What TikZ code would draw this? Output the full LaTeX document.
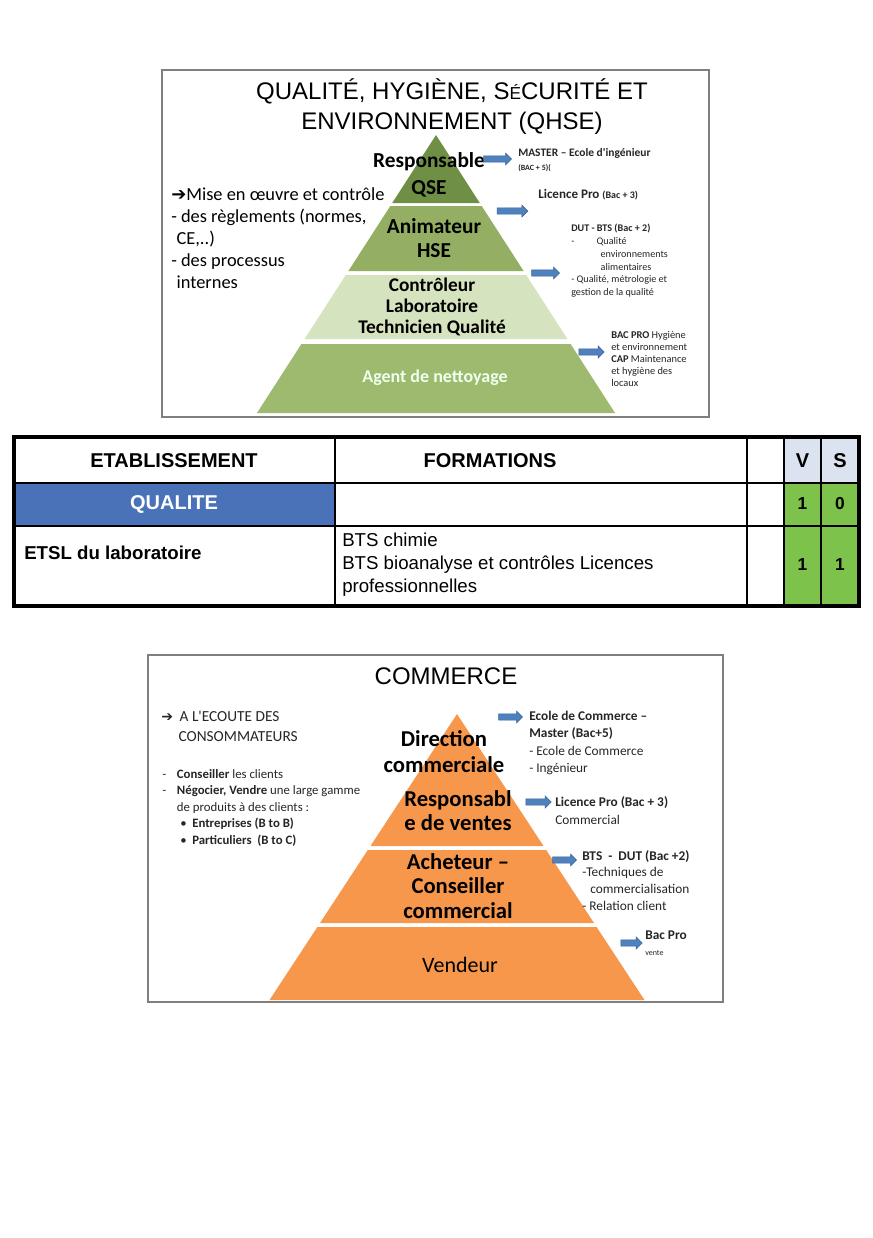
\documentclass[tikz,border=0pt]{standalone}
\usepackage{fontspec}
\setmainfont{Liberation Sans}
\newfontfamily\slidefont{Carlito}
\newfontfamily\symfont{DejaVu Sans}
\usetikzlibrary{shapes.arrows, positioning}
\definecolor{framegray}{HTML}{7F7F7F}
\definecolor{qsegreen}{HTML}{6F8F45}
\definecolor{hsegreen}{HTML}{94AF63}
\definecolor{labgreen}{HTML}{D6E3BF}
\definecolor{agentgreen}{HTML}{9EBA6F}
\definecolor{arrowblue}{HTML}{4F81BD}
\definecolor{arrowedge}{HTML}{3B6498}
\definecolor{qualiteblue}{HTML}{4A72B8}
\definecolor{scoregreen}{HTML}{7DC24B}
\definecolor{headgray}{HTML}{DCE3F0}
\definecolor{salesorange}{HTML}{F7974C}
\definecolor{inkgray}{HTML}{262626}

\begin{document}
\begin{tikzpicture}[x=0.75pt, y=-0.75pt,
    slide/.style={draw=framegray, line width=1.4pt, fill=white},
    slidetitle/.style={font=\fontsize{18}{22.5}\selectfont, align=center, inner sep=0pt},
    tiername/.style={font=\slidefont\bfseries\fontsize{16}{20}\selectfont, align=center, inner sep=0pt},
    note/.style={font=\slidefont\fontsize{13.8}{16.5}\selectfont, align=left, inner sep=0pt, anchor=north west},
    tinynote/.style={font=\slidefont\fontsize{7.6}{9.6}\selectfont, align=left, inner sep=0pt, anchor=north west, text=inkgray},
    pointer/.style={single arrow, fill=arrowblue, draw=arrowedge, line width=0.4pt, inner xsep=0pt, inner ysep=2.1pt, minimum width=8.5pt, single arrow head extend=2.2pt},
    cell/.style={font=\fontsize{14}{17.25}\selectfont, inner sep=0pt},
    tabline/.style={line width=1.1pt}
  ]
  \fill[white] (0,0) rectangle (873,1238);
  \useasboundingbox (0,0) rectangle (873,1238);

  % QHSE slide
  \draw[slide] (162,70) rectangle (709,417);
  \node[slidetitle] (qhsetitle) at (452,107) {QUALITÉ, HYGIÈNE, S{\fontsize{13}{15}\selectfont É}CURITÉ ET\\ENVIRONNEMENT (QHSE)};

  \fill[qsegreen] (436,135) -- (479.8,203) -- (392.2,203) -- cycle;
  \fill[hsegreen] (390.3,206) -- (481.7,206) -- (523.6,271) -- (348.4,271) -- cycle;
  \fill[labgreen] (345.8,275) -- (526.2,275) -- (567.4,339) -- (304.6,339) -- cycle;
  \fill[agentgreen] (301.4,344) -- (570.6,344) -- (615,413) -- (257,413) -- cycle;

  \node[tiername] (qse) at (429,175) {Responsable\\QSE};
  \node[tiername, font=\slidefont\bfseries\fontsize{16}{18}\selectfont] (hse) at (434,238) {Animateur\\HSE};
  \node[tiername, font=\slidefont\bfseries\fontsize{14.5}{16}\selectfont] (labo) at (432,307) {Contrôleur\\Laboratoire\\Technicien Qualité};
  \node[tiername, font=\slidefont\bfseries\fontsize{13.5}{16}\selectfont, text=white!94!green] (agent) at (435,378) {Agent de nettoyage};

  \node[note] (qhsenote) at (171,187) {{\symfont\bfseries\fontsize{13.5}{16.5}\selectfont ➔}Mise en œuvre et contrôle\\- des règlements (normes,\\\hspace*{4pt}CE,..)\\- des processus\\\hspace*{4pt}internes};

  \node[pointer, minimum height=21pt] (toMaster) at (496,159) {};
  \node[pointer, minimum height=23pt] (toLicence) at (511,211) {};
  \node[pointer, minimum height=21pt] (toDut) at (544,273) {};
  \node[pointer, minimum height=19pt] (toBacPro) at (590,352) {};

  \node[tinynote, font=\slidefont\bfseries\fontsize{8.6}{11}\selectfont] (master) at (518,148) {MASTER – Ecole d'ingénieur\\{\fontsize{6}{7}\selectfont (BAC + 5)(}};
  \node[tinynote, font=\slidefont\bfseries\fontsize{9.8}{11}\selectfont] (licence) at (538,189) {Licence Pro {\fontsize{7.5}{8}\selectfont (Bac + 3)}};
  \node[tinynote] (dut) at (571,224) {\textbf{DUT - BTS (Bac + 2)}\\-\hspace{2.2em}Qualité\\\hspace*{2.9em}environnements\\\hspace*{2.9em}alimentaires\\- Qualité, métrologie et\\gestion de la qualité};
  \node[tinynote, font=\slidefont\fontsize{7.8}{9}\selectfont] (bacpro) at (611,331) {\textbf{BAC PRO} Hygiène\\et environnement\\\textbf{CAP} Maintenance\\et hygiène des\\locaux};

  % table
  \fill[headgray] (784,437) rectangle (859,483);
  \fill[qualiteblue] (14,483) rectangle (335,526);
  \fill[scoregreen] (784,483) rectangle (859,606);
  \draw[tabline] (14,483) -- (859,483) (14,526) -- (859,526)
    (335,437) -- (335,606) (747,437) -- (747,606) (784,437) -- (784,606) (821,437) -- (821,606);
  \draw[line width=2.6pt] (14,437) rectangle (859,606);

  \node[cell, font=\bfseries\fontsize{15}{17}\selectfont] (etab) at (174,461) {ETABLISSEMENT};
  \node[cell, font=\bfseries\fontsize{15}{17}\selectfont] (form) at (490,461) {FORMATIONS};
  \node[cell, font=\bfseries\fontsize{15}{17}\selectfont] (vhead) at (802.5,461) {V};
  \node[cell, font=\bfseries\fontsize{15}{17}\selectfont] (shead) at (840,461) {S};
  \node[cell, font=\bfseries\fontsize{15}{17}\selectfont, text=white] (qualite) at (174,504) {QUALITE};
  \node[cell, font=\bfseries\fontsize{13}{15}\selectfont] (vqual) at (802.5,504) {1};
  \node[cell, font=\bfseries\fontsize{13}{15}\selectfont] (squal) at (840,504) {0};
  \node[cell, font=\bfseries\fontsize{14}{17}\selectfont, anchor=west] (etsl) at (24,553) {ETSL du laboratoire};
  \node[cell, align=left, anchor=north west] (bts) at (342,533) {BTS chimie\\BTS bioanalyse et contrôles Licences\\professionnelles};
  \node[cell, font=\bfseries\fontsize{13}{15}\selectfont] (vetsl) at (802.5,565) {1};
  \node[cell, font=\bfseries\fontsize{13}{15}\selectfont] (setsl) at (840,565) {1};

  % COMMERCE slide
  \draw[slide] (148,655) rectangle (723,1002);
  \node[slidetitle] (comtitle) at (446,676) {COMMERCE};

  \fill[salesorange] (457,714) -- (543.5,846) -- (370.5,846) -- cycle;
  \fill[salesorange] (367.8,850) -- (546.2,850) -- (594,923) -- (320,923) -- cycle;
  \fill[salesorange] (317.4,927) -- (596.6,927) -- (644.5,1000) -- (269.5,1000) -- cycle;

  \node[tiername, font=\slidefont\bfseries\fontsize{17}{19.5}\selectfont] (direction) at (444,752) {Direction\\commerciale};
  \node[tiername, font=\slidefont\bfseries\fontsize{17}{18}\selectfont] (respventes) at (458,811) {Responsabl\\e de ventes};
  \node[tiername, font=\slidefont\bfseries\fontsize{17}{18.4}\selectfont] (acheteur) at (458,886) {Acheteur –\\Conseiller\\commercial};
  \node[tiername, font=\slidefont\fontsize{16.5}{19}\selectfont] (vendeur) at (460,965) {Vendeur};

  \node[note, font=\slidefont\fontsize{11.5}{15}\selectfont, text=inkgray] (ecoute) at (161,711) {{\symfont\bfseries\fontsize{10.5}{15}\selectfont ➔}\hspace{5pt}A L'ECOUTE DES\\\hspace*{13pt}CONSOMMATEURS};
  \node[note, font=\slidefont\fontsize{9.6}{12.4}\selectfont, text=inkgray] (missions) at (162,769) {\makebox[11pt][l]{-}\textbf{Conseiller} les clients\\\makebox[11pt][l]{-}\textbf{Négocier, Vendre} une large gamme\\\hspace*{11pt}de produits à des clients :\\\hspace*{13.5pt}\makebox[9pt][l]{•}\textbf{Entreprises (B to B)}\\\hspace*{13.5pt}\makebox[9pt][l]{•}\textbf{Particuliers\ \ (B to C)}};

  \node[pointer, minimum height=18pt] (toEcole) at (509,717) {};
  \node[pointer, minimum height=19pt] (toLicCom) at (537,802) {};
  \node[pointer, minimum height=18pt] (toBts) at (563,860) {};
  \node[pointer, minimum height=16pt] (toBacVente) at (630,943) {};

  \node[note, font=\slidefont\fontsize{10}{13}\selectfont, text=inkgray] (ecole) at (529,711) {\textbf{Ecole de Commerce –}\\\textbf{Master (Bac+5)}\\- Ecole de Commerce\\- Ingénieur};
  \node[note, font=\slidefont\fontsize{10}{13.5}\selectfont, text=inkgray] (liccom) at (555,796) {\textbf{Licence Pro (Bac + 3)}\\Commercial};
  \node[note, font=\slidefont\fontsize{10}{12.5}\selectfont, text=inkgray] (btsdut) at (582,850) {\textbf{BTS\ \ -\ \ DUT (Bac +2)}\\-Techniques de\\\hspace*{6pt}commercialisation\\- Relation client};
  \node[note, font=\slidefont\fontsize{10}{12}\selectfont, text=inkgray] (bacvente) at (645,931) {\textbf{Bac Pro}\\{\fontsize{6}{7}\selectfont vente}};
\end{tikzpicture}
\end{document}
